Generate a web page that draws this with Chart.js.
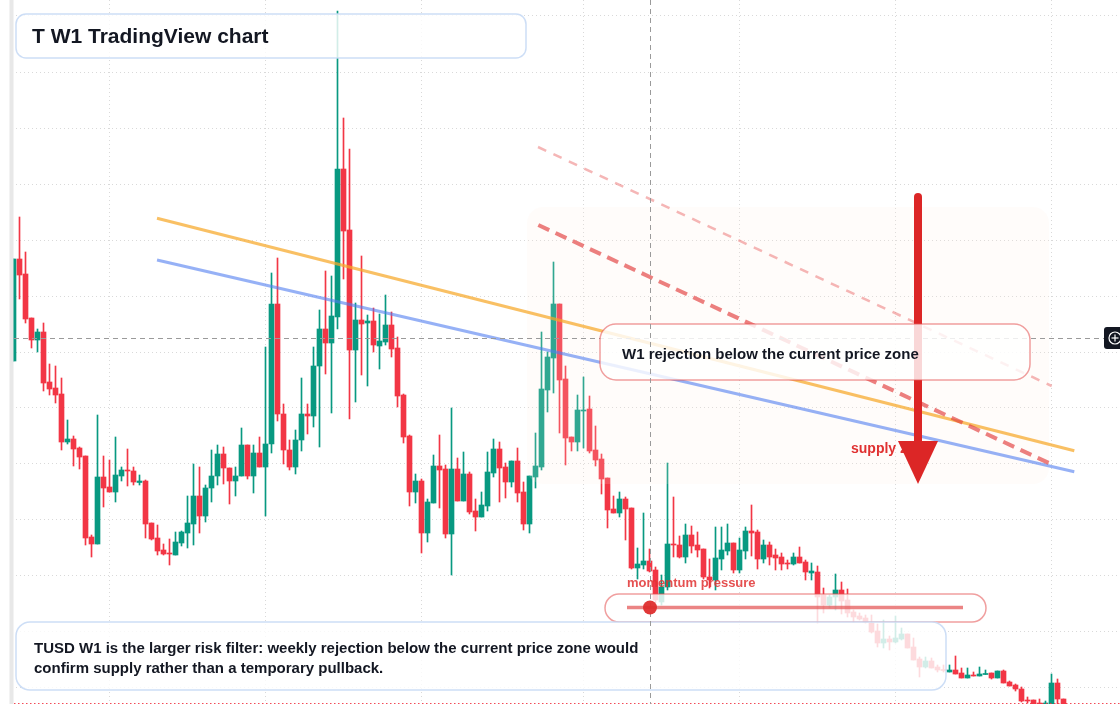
<!DOCTYPE html>
<html><head><meta charset="utf-8">
<script src="https://cdn.jsdelivr.net/npm/chart.js@4.4.1/dist/chart.umd.min.js"></script>
<style>html,body{margin:0;padding:0;background:#fff;overflow:hidden}#wrap{width:1120px;height:704px;position:relative}canvas{display:block}</style>
</head><body><div id="wrap"><canvas id="c" width="1120" height="704"></canvas></div>
<script>
// ---- data (weekly candles, price units) ----
const OPEN=[43.9,54.1,52.6,48.2,46.0,46.8,41.8,41.2,40.6,35.8,
36.1,35.2,34.4,26.3,25.6,32.3,31.3,30.8,32.4,33.0,
32.9,31.75,31.9,27.7,26.2,25.0,24.7,24.5,25.7,26.7,
27.6,30.4,28.4,31.2,32.4,34.6,33.2,31.9,32.4,35.5,
32.4,34.7,33.3,35.6,49.6,38.6,35.0,33.3,36.0,38.6,
38.4,43.4,47.1,45.7,48.3,63.1,57.0,45.0,48.0,47.7,
47.9,45.4,45.8,47.5,45.2,40.5,36.4,30.8,31.9,26.7,
29.7,33.4,33.1,26.6,33.1,29.9,32.6,28.9,28.3,29.4,
32.7,35.1,33.3,31.8,33.9,30.8,27.6,32.3,33.3,41.0,
44.2,49.6,42.1,36.3,35.8,38.9,39.1,35.0,34.1,32.2,
29.1,28.7,30.1,29.2,23.2,23.5,23.9,23.0,19.8,21.3,
25.6,25.5,24.3,26.5,25.5,25.1,22.3,22.0,24.1,24.9,
25.7,23.0,24.9,26.9,26.8,24.1,25.5,24.5,24.3,23.7,
23.6,24.3,23.8,22.7,22.8,20.5,19.5,20.3,21.0,20.0,
18.8,18.4,18.2,17.7,16.9,15.7,16.1,15.8,16.1,16.6,
15.3,14.1,13.3,13.9,13.3,13.0,12.8,13.0,12.7,12.2,
12.5,12.4,12.55,12.7,12.2,12.9,11.8,11.5,11.1,10.0,
10.0,9.7,9.5,9.4,11.7,10.1];
const HIGH=[54.1,58.3,54.8,48.2,47.1,47.7,43.6,43.4,42.2,38.0,
36.4,35.3,34.4,26.5,38.5,34.4,34.0,36.3,33.3,35.1,
33.3,32.5,32.0,27.7,27.5,25.6,26.1,26.8,26.9,30.4,
33.6,33.3,31.5,35.0,35.5,35.3,33.2,33.3,37.2,35.5,
35.5,36.3,45.3,52.7,54.2,39.6,36.0,37.0,42.2,39.6,
45.3,49.0,52.9,52.4,78.9,68.2,65.1,49.7,54.4,48.5,
49.2,48.6,50.5,48.8,46.3,40.6,36.5,32.6,32.1,30.1,
34.5,36.5,33.5,39.2,34.2,34.8,32.8,30.1,30.8,34.8,
36.1,35.8,33.7,33.9,35.2,31.8,32.4,36.7,46.8,44.8,
53.8,49.6,43.4,36.3,40.5,42.3,40.4,37.4,34.6,32.2,
30.4,30.8,30.3,29.2,25.2,28.7,25.1,23.3,22.5,33.7,
30.3,26.4,27.6,27.4,26.8,25.1,24.1,27.3,27.3,27.6,
25.7,26.2,27.3,29.5,27.0,26.0,25.8,25.1,24.7,24.0,
24.7,25.3,24.0,23.7,23.4,21.2,20.5,22.6,21.8,21.1,
19.0,18.7,18.5,18.5,17.6,18.0,16.4,18.4,17.2,16.6,
16.2,14.3,14.3,14.2,13.5,13.5,13.5,14.4,13.2,13.2,
12.8,13.3,13.0,12.7,12.9,13.0,11.9,11.6,11.3,10.3,
10.0,10.1,9.9,12.6,12.1,10.1];
const LOW=[43.9,50.1,47.7,45.2,44.8,40.9,40.5,39.7,35.0,35.6,
33.4,33.1,25.5,24.3,25.6,29.3,30.8,29.8,31.9,31.4,
31.5,31.5,26.2,26.0,24.5,24.5,23.5,24.5,25.4,25.2,
25.5,26.7,27.8,29.8,31.5,31.6,29.6,30.4,32.4,32.1,
30.7,33.3,28.4,34.7,37.9,33.6,33.0,32.6,34.9,36.6,
37.3,35.3,42.6,38.7,47.1,52.1,38.1,39.8,42.5,41.4,
44.8,43.1,45.5,44.3,39.3,35.7,29.4,29.7,24.7,25.8,
29.7,29.2,26.2,22.5,29.9,29.9,28.6,26.9,28.3,28.9,
32.3,29.8,30.2,31.3,29.8,27.0,26.7,31.2,33.0,38.8,
40.7,36.7,33.5,34.9,34.9,35.2,34.7,33.4,30.6,27.2,
28.7,28.3,26.0,23.1,22.1,23.1,22.8,19.7,19.5,21.0,
24.3,24.2,23.7,24.7,24.3,22.1,21.2,21.0,23.0,24.5,
22.7,22.7,24.1,24.4,23.1,23.7,23.5,23.0,23.0,23.1,
23.5,23.7,22.0,22.0,17.7,18.7,19.2,19.0,18.6,18.3,
17.8,18.0,17.7,16.7,15.3,15.2,15.0,15.7,16.0,15.2,
14.0,12.3,13.2,13.2,12.8,12.8,12.8,12.6,12.2,12.2,
12.4,12.4,12.55,12.1,12.2,11.7,11.4,10.9,9.8,9.7,
9.5,9.5,9.5,9.4,9.4,9.0];
const CLOSE=[54.1,52.5,48.1,46.0,46.8,41.7,41.1,40.5,35.8,36.1,
35.1,34.3,26.2,25.6,32.3,31.2,30.8,32.5,33.0,32.9,
31.8,31.9,27.6,26.1,24.9,24.6,24.6,25.8,26.8,27.7,
30.4,28.4,31.2,32.4,34.6,33.2,31.9,32.4,35.5,32.4,
34.7,33.3,35.6,49.6,38.6,35.0,33.3,36.0,38.6,38.4,
43.4,47.1,45.7,48.4,63.1,56.9,45.0,48.0,47.6,47.9,
45.5,45.9,47.5,45.1,40.4,36.3,30.8,31.9,26.7,29.8,
33.4,33.0,26.6,33.1,29.9,32.6,28.8,28.3,29.5,32.8,
35.1,33.2,31.8,33.9,30.7,27.6,32.4,33.4,41.1,44.3,
49.6,42.0,36.2,35.8,39.0,39.0,34.9,34.0,32.1,29.0,
28.7,30.1,29.1,23.2,23.6,23.9,22.9,20.0,21.3,25.6,
25.5,24.3,26.5,25.4,25.0,22.3,22.0,24.2,25.0,25.7,
23.0,25.0,26.9,26.7,24.1,25.5,24.3,24.2,23.6,23.6,
24.3,23.7,22.8,22.9,20.3,19.5,20.3,21.0,19.9,18.7,
18.3,18.1,17.8,16.8,15.7,16.1,15.8,16.2,16.6,15.2,
14.0,13.3,13.9,13.2,13.0,12.95,13.0,12.6,12.2,12.5,
12.4,12.6,12.65,12.2,12.9,11.7,11.4,11.1,9.9,9.9,
9.6,9.55,9.7,11.7,10.1,9.2];

// grid ticks (candle index / price)
const GRID_X=[16,42,68,95,121,147,173];
const GRID_Y=[78.4,72.8,67.2,61.6,56.0,50.4,44.8,39.3,33.7,28.1,22.5,16.9,11.3];

// trend lines: [candle index, price]
const LINE_ORANGE=[[23.92,58.17],[176.8,34.93]];
const LINE_BLUE=[[23.92,54.0],[176.8,32.83]];
const LINE_RED=[[87.47,57.5],[173.25,33.5]];
const LINE_RED_LIGHT=[[87.42,65.3],[173.03,41.4]];

const CROSS_INDEX=106, CROSS_PRICE=46.2, LAST_PRICE=9.7;

const TITLE='T W1 TradingView chart';
const NOTE_W1='W1 rejection below the current price zone';
const LABEL_SUPPLY='supply zone';
const LABEL_MOMENTUM='momentum pressure';
const FOOT_LINES=['TUSD W1 is the larger risk filter: weekly rejection below the current price zone would','confirm supply rather than a temporary pullback.'];

// ---- styles / layout ----
const UP='#089981', DOWN='#f23645';
const FONT='"Liberation Sans", Arial, Helvetica, sans-serif';
const X_MIN=-2.25, X_SPAN=1120/6;

const cols=OPEN.map((o,i)=>CLOSE[i]>=o?UP:DOWN);
const pts=a=>a.map(p=>({x:p[0],y:p[1]}));

function rr(ctx,x,y,w,h,r){ctx.beginPath();ctx.moveTo(x+r,y);ctx.arcTo(x+w,y,x+w,y+h,r);ctx.arcTo(x+w,y+h,x,y+h,r);ctx.arcTo(x,y+h,x,y,r);ctx.arcTo(x,y,x+w,y,r);ctx.closePath();}
function seg(ctx,x1,y1,x2,y2){ctx.beginPath();ctx.moveTo(x1,y1);ctx.lineTo(x2,y2);ctx.stroke();}
function box(ctx,x,y,w,h,r,stroke){ctx.save();rr(ctx,x,y,w,h,r);ctx.fillStyle='rgba(255,255,255,0.82)';ctx.fill();ctx.lineWidth=1.5;ctx.strokeStyle=stroke;ctx.stroke();ctx.restore();}

const overlay={
 id:'overlay',
 afterDatasetDraw(chart,args){
  if(args.index!==1) return;
  const ctx=chart.ctx;
  ctx.save(); rr(ctx,527,207,522,277,16); ctx.fillStyle='rgba(255,236,224,0.17)'; ctx.fill(); ctx.restore();
 },
 afterDatasetsDraw(chart){
  const ctx=chart.ctx, xs=chart.scales.x, ys=chart.scales.y;
  const cx=Math.round(xs.getPixelForValue(CROSS_INDEX))+0.5, cy=Math.round(ys.getPixelForValue(CROSS_PRICE))+0.5;
  const ly=Math.round(ys.getPixelForValue(LAST_PRICE))+0.5;
  ctx.save();
  ctx.lineWidth=1;
  ctx.strokeStyle='rgba(242,54,69,0.9)'; ctx.setLineDash([1.5,2.5]); seg(ctx,14,ly,1120,ly);
  ctx.strokeStyle='#9a9a9a'; ctx.setLineDash([5,4]); seg(ctx,14,cy,1104,cy);
  ctx.setLineDash([]);
  // supply label
  ctx.font='bold 14px '+FONT; ctx.fillStyle='#e03131'; ctx.textBaseline='alphabetic'; ctx.fillText(LABEL_SUPPLY,851,453);
  // arrow
  ctx.strokeStyle='#dc2626'; ctx.lineWidth=8; ctx.lineCap='round'; seg(ctx,918,197,918,446);
  ctx.fillStyle='#dc2626'; ctx.beginPath(); ctx.moveTo(898,441); ctx.lineTo(938,441); ctx.lineTo(918,484); ctx.closePath(); ctx.fill();
  ctx.lineCap='butt';
  // boxes
  box(ctx,16,14,510,44,10,'rgba(200,218,245,0.9)');
  box(ctx,600,324,430,56,16,'rgba(228,80,80,0.55)');
  box(ctx,605,594,381,28,14,'rgba(228,80,80,0.55)');
  box(ctx,16,622,930,68,14,'rgba(200,218,245,0.9)');
  // vertical crosshair
  ctx.lineWidth=1; ctx.strokeStyle='#9a9a9a'; ctx.setLineDash([5,4]); seg(ctx,cx,0,cx,704); ctx.setLineDash([]);
  // pill inner
  ctx.strokeStyle='rgba(226,80,80,0.7)'; ctx.lineWidth=3.5; seg(ctx,627,607.5,963,607.5);
  ctx.fillStyle='rgba(222,45,45,0.95)'; ctx.beginPath(); ctx.arc(650,607.5,7,0,Math.PI*2); ctx.fill();
  // texts
  ctx.fillStyle='#131722';
  ctx.font='bold 21px '+FONT; ctx.fillText(TITLE,32,43);
  ctx.font='bold 15px '+FONT; ctx.fillText(NOTE_W1,622,359);
  ctx.fillText(FOOT_LINES[0],34,653); ctx.fillText(FOOT_LINES[1],34,672.5);
  ctx.font='bold 13px '+FONT; ctx.fillStyle='rgba(224,49,49,0.85)'; ctx.fillText(LABEL_MOMENTUM,627,587);
  // left strip
  ctx.fillStyle='#ffffff'; ctx.fillRect(0,0,9.5,704);
  ctx.fillStyle='#e8e8e8'; ctx.fillRect(9.5,0,4,704);
  // crosshair badge
  ctx.fillStyle='#131722'; rr(ctx,1104,327,24,22,3); ctx.fill();
  ctx.strokeStyle='#ffffff'; ctx.lineWidth=1.2; ctx.beginPath(); ctx.arc(1115,338,6,0,Math.PI*2); ctx.stroke();
  seg(ctx,1111.5,338,1118.5,338); seg(ctx,1115,334.5,1115,341.5);
  ctx.restore();
 }
};

new Chart(document.getElementById('c'),{
 type:'bar',
 data:{datasets:[
  {label:'wick',data:OPEN.map((o,i)=>({x:i,y:[LOW[i],HIGH[i]]})),backgroundColor:cols,barThickness:1,grouped:false,order:2},
  {label:'body',data:OPEN.map((o,i)=>({x:i,y:[o,CLOSE[i]]})),backgroundColor:cols,barThickness:5,minBarLength:1,grouped:false,order:1},
  {type:'line',label:'red',data:pts(LINE_RED),borderColor:'rgba(226,60,60,0.65)',borderWidth:4,borderDash:[12,7],pointRadius:0,order:0},
  {type:'line',label:'redLight',data:pts(LINE_RED_LIGHT),borderColor:'rgba(236,110,110,0.5)',borderWidth:2.5,borderDash:[9,8],pointRadius:0,order:0},
  {type:'line',label:'blue',data:pts(LINE_BLUE),borderColor:'rgba(80,125,240,0.6)',borderWidth:3,pointRadius:0,order:0},
  {type:'line',label:'orange',data:pts(LINE_ORANGE),borderColor:'rgba(247,168,40,0.72)',borderWidth:3,pointRadius:0,order:0}
 ]},
 options:{
  responsive:false,animation:false,events:[],devicePixelRatio:1,
  layout:{padding:0},
  plugins:{legend:{display:false},tooltip:{enabled:false},title:{display:false}},
  scales:{
   x:{type:'linear',min:X_MIN,max:X_MIN+X_SPAN,offset:false,
      grid:{offset:false,drawTicks:false,color:'#d9d9d9',lineWidth:1},
      border:{display:false,dash:[1,3]},ticks:{display:false},
      afterBuildTicks:a=>{a.ticks=GRID_X.map(v=>({value:v}));}},
   y:{type:'linear',min:9.6,max:80,
      grid:{drawTicks:false,color:'#d9d9d9',lineWidth:1},
      border:{display:false,dash:[1,3]},ticks:{display:false},
      afterBuildTicks:a=>{a.ticks=GRID_Y.map(v=>({value:v}));}}
  }
 },
 plugins:[overlay]
});
</script></body></html>
